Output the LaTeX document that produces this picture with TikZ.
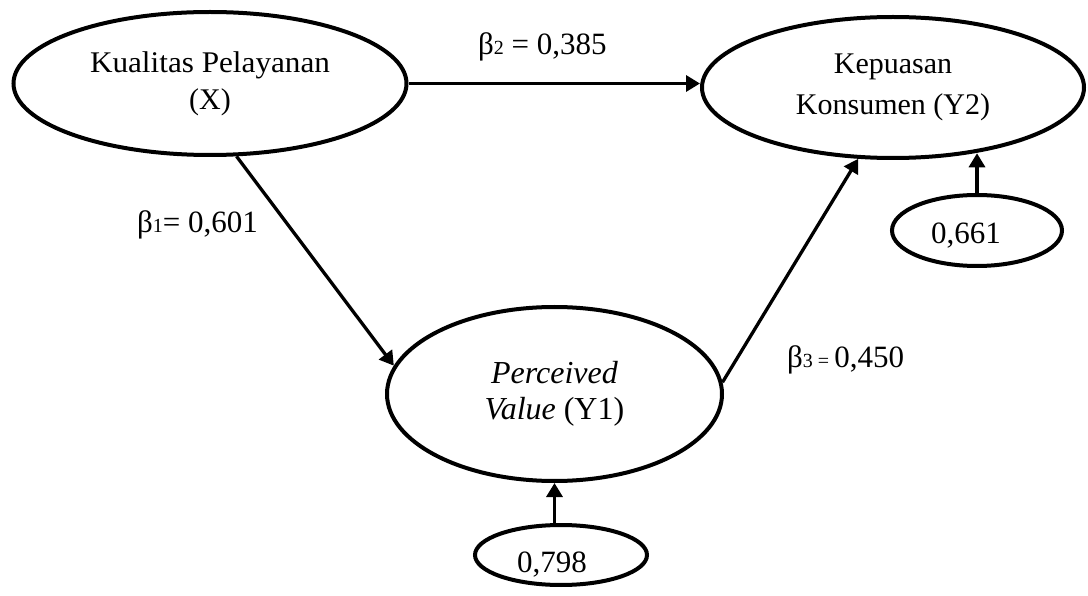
\documentclass[tikz,border=0pt]{standalone}
\usepackage{fontspec}
\setmainfont{Liberation Serif}
\usetikzlibrary{arrows.meta,shapes.geometric}
\newcommand\smallnum[1]{{\fontsize{20}{20}\selectfont #1}}
\begin{document}
\begin{tikzpicture}[x=1pt,y=-1pt,
  latent/.style={draw, ellipse, line width=4pt, inner sep=0pt, align=center},
  conn/.style={line width=3.3pt, -{Triangle[length=14pt,width=16pt]}},
  lbl/.style={anchor=base west, inner sep=0pt, font=\fontsize{31}{36}\selectfont},
  num/.style={anchor=base, inner sep=0pt, font=\fontsize{31}{36}\selectfont}]
\useasboundingbox (0,0) rectangle (1088,596);
\node[latent, minimum width=393pt, minimum height=143pt,
      font=\fontsize{30}{37}\selectfont] (X) at (210,83.5)
  {\scalebox{1.04}[1]{Kualitas Pelayanan}\\(X)};
\node[latent, minimum width=382pt, minimum height=141pt,
      font=\fontsize{30}{41}\selectfont] (Y2) at (893,87.5)
  {Kepuasan\\Konsumen (Y2)};
\node[latent, minimum width=335pt, minimum height=174pt,
      font=\fontsize{32}{36}\selectfont] (Y1) at (554.5,394)
  {\textit{Perceived}\\\textit{Value} (Y1)};
\node[latent, minimum width=172pt, minimum height=60pt] (E1) at (561,555) {};
\node[latent, minimum width=170pt, minimum height=71pt] (E2) at (977,230.5) {};
\node[num] (t1) at (552,572) {0,798};
\node[num] (t2) at (966,244) {0,661};
\node[lbl] (b2) at (478,55) {β\smallnum{2} = 0,385};
\node[lbl] (b1) at (137,233) {β\smallnum{1}= 0,601};
\node[lbl] (b3) at (787,367) {β\smallnum{3 =}\,0,450};
\draw[conn] (X.east) -- (X.east -| Y2.west);
\draw[conn] (X.-70) -- (Y1.170);
\draw[conn] (Y1.4) -- (Y2.-116);
\draw[conn] (E1.north -| Y1.south) -- (Y1.south);
\draw[conn] (E2.north) -- (E2.north |- Y2.-39);
\end{tikzpicture}
\end{document}
